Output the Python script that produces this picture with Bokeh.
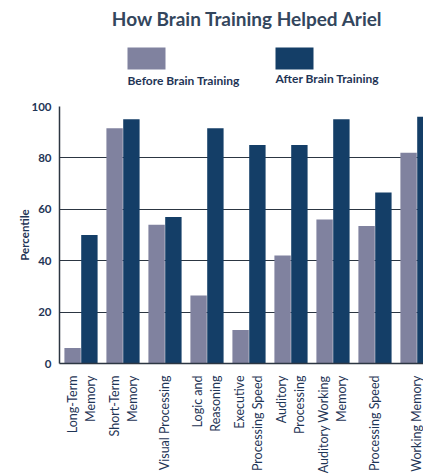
import math
from bokeh.plotting import figure
from bokeh.layouts import column
from bokeh.models import ColumnDataSource, FixedTicker, Range1d
from bokeh.transform import dodge
from bokeh.core.properties import value
from bokeh.embed import file_html
from bokeh.resources import INLINE

categories = ["Long-Term\nMemory", "Short-Term\nMemory", "Visual Processing",
              "Logic and\nReasoning", "Executive\nProcessing Speed",
              "Auditory\nProcessing", "Auditory Working\nMemory",
              "Processing Speed", "Working Memory"]
before = [6, 91.5, 54, 26.5, 13, 42, 56, 53.5, 82]
after = [50, 95, 57, 91.5, 85, 85, 95, 66.5, 96]
y_ticks = [0, 20, 40, 60, 80, 100]
series_names = ["Before Brain Training", "After Brain Training"]
title_text = "How Brain Training Helped Ariel"

BEFORE_C = "#80829f"
AFTER_C = "#143e67"
TEXT_C = "#1f3556"
GRID_C = "#2c3642"
FONT = "Lato"

xs = list(range(len(categories)))
src = ColumnDataSource(dict(x=xs, before=before, after=after))

# ---- header (title + legend) ----
h = figure(frame_width=364, frame_height=95, x_range=Range1d(59, 423), y_range=Range1d(95, 0),
           toolbar_location=None, output_backend="svg", min_border=0, min_border_left=59,
           x_axis_location=None, y_axis_location=None)
h.grid.visible = False
h.outline_line_color = None
h.text(x=[247], y=[18], text=[title_text], text_align="center", text_baseline="middle",
       text_font=value(FONT), text_font_size="19px", text_color="#33465d", text_font_style="bold")
h.quad(left=[127, 275], right=[165, 313], top=[47, 47], bottom=[69, 69],
       color=[BEFORE_C, AFTER_C], line_color=None)
h.text(x=[127, 275], y=[80, 78], text=series_names, text_align="left", text_baseline="middle",
       text_font=value(FONT), text_font_size="12px", text_color=TEXT_C, text_font_style="bold")

# ---- main chart ----
p = figure(frame_width=364, frame_height=257, x_range=Range1d(-0.512, 8.155), y_range=Range1d(0, 100),
           toolbar_location=None, output_backend="svg",
           min_border_left=59, min_border_right=0, min_border_top=11, min_border_bottom=112)
p.outline_line_color = None
p.vbar(x=dodge("x", -0.2), top="before", width=0.39, source=src, color=BEFORE_C, line_color=None)
p.vbar(x=dodge("x", 0.2), top="after", width=0.39, source=src, color=AFTER_C, line_color=None)

p.xgrid.visible = False
p.ygrid.grid_line_color = GRID_C
p.ygrid.grid_line_width = 1
p.ygrid.ticker = FixedTicker(ticks=y_ticks)
p.yaxis.ticker = FixedTicker(ticks=y_ticks)
p.xaxis.ticker = FixedTicker(ticks=xs)
p.xaxis.major_label_overrides = {i: c for i, c in enumerate(categories)}
p.xaxis.major_label_orientation = math.pi / 2

for ax in (p.xaxis, p.yaxis):
    ax.axis_line_color = GRID_C
    ax.axis_line_width = 1.5
    ax.major_tick_line_color = None
    ax.minor_tick_line_color = None
    ax.major_label_text_font = FONT
    ax.major_label_text_color = TEXT_C

p.xaxis.major_label_text_font_size = "12.5px"
p.xaxis.major_label_standoff = 6
p.xaxis.major_label_text_align = "left"
p.yaxis.major_label_text_font_size = "11.5px"
p.yaxis.major_label_standoff = 2
p.yaxis.major_label_text_font_style = "bold"
p.yaxis.axis_label = "Percentile"
p.yaxis.axis_label_text_font = FONT
p.yaxis.axis_label_text_font_size = "11.5px"
p.yaxis.axis_label_text_font_style = "bold"
p.yaxis.axis_label_text_color = TEXT_C
p.yaxis.axis_label_standoff = -3

layout = column(h, p, spacing=0)
open("out.html", "w").write(file_html(layout, INLINE))
